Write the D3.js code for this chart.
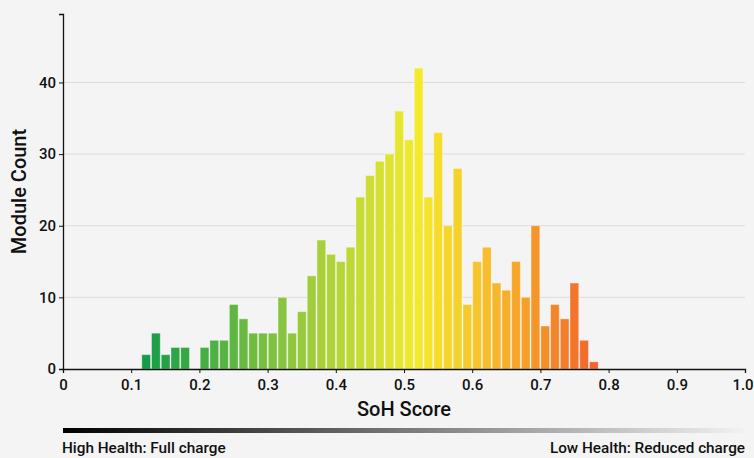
<!DOCTYPE html>
<html>
<head>
<meta charset="utf-8">
<script src="https://cdn.jsdelivr.net/npm/d3@7"></script>
<style>
  html, body { margin: 0; padding: 0; background: #f4f4f4; }
  svg { display: block; font-family: Roboto, "DejaVu Sans", sans-serif; }
</style>
</head>
<body>
<svg id="chart" width="754" height="458"></svg>
<script>
// ---- Data ----
const binStart = 0.1148;
const binWidth = 0.01427;
const counts = [2, 5, 2, 3, 3, 0, 3, 4, 4, 9, 7, 5, 5, 5, 10, 5, 8, 13, 18, 16, 15, 17, 24, 27, 29, 30, 36, 32, 42, 24, 33, 20, 28, 9, 15, 17, 12, 11, 15, 10, 20, 6, 9, 7, 12, 4, 1];
const xTicks = [0, 0.1, 0.2, 0.3, 0.4, 0.5, 0.6, 0.7, 0.8, 0.9, 1.0];
const yTicks = [0, 10, 20, 30, 40];
const colorStops = [0.11, 0.33, 0.52, 0.64, 0.785];
const colorValues = ["#0f9a48", "#8cc63f", "#f4eb2c", "#f7b52a", "#f0612b"];
const xLabel = "SoH Score";
const yLabel = "Module Count";
const legendLeft = "High Health: Full charge";
const legendRight = "Low Health: Reduced charge";

const bins = counts.map((c, i) => ({ x0: binStart + i * binWidth, x1: binStart + (i + 1) * binWidth, count: c }));

const svg = d3.select("#chart");
const margin = { left: 63, right: 9, top: 14, bottom: 89 };
const W = 754, H = 458;

const x = d3.scaleLinear().domain([0, 1]).range([margin.left, W - margin.right]);
const y = d3.scaleLinear().domain([0, d3.max(counts) * 1.18]).range([H - margin.bottom, margin.top]);
const color = d3.scaleLinear().domain(colorStops).range(colorValues).clamp(true);

// gridlines
svg.append("g")
  .selectAll("line")
  .data(yTicks.filter(d => d > 0))
  .join("line")
  .attr("x1", x(0)).attr("x2", x(1))
  .attr("y1", d => y(d)).attr("y2", d => y(d))
  .attr("stroke", "#dcdcdc").attr("stroke-width", 1);

// bars
svg.append("g")
  .selectAll("rect")
  .data(bins.filter(b => b.count > 0))
  .join("rect")
  .attr("x", d => x(d.x0) + 0.5)
  .attr("width", d => x(d.x1) - x(d.x0) - 1)
  .attr("y", d => y(d.count))
  .attr("height", d => y(0) - y(d.count))
  .attr("fill", d => color((d.x0 + d.x1) / 2))
  .attr("stroke", "rgba(255,255,255,0.35)")
  .attr("stroke-width", 1);

// axes
const fmt = d => d === 0 ? "0" : d3.format(".1f")(d);
const xAxis = svg.append("g")
  .attr("transform", `translate(0,${y(0)})`)
  .call(d3.axisBottom(x).tickValues(xTicks).tickFormat(fmt).tickSize(4).tickSizeOuter(4));
const yAxis = svg.append("g")
  .attr("transform", `translate(${x(0)},0)`)
  .call(d3.axisLeft(y).tickValues(yTicks).tickSize(4).tickSizeOuter(4));

[xAxis, yAxis].forEach(g => {
  g.selectAll("path.domain").attr("stroke", "#111").attr("stroke-width", 1.3);
  g.selectAll(".tick line").attr("stroke", "#111");
  g.selectAll("text").attr("fill", "#111").style("font-size", "15px").style("font-weight", 500)
    .style("font-family", "Roboto, sans-serif");
});
xAxis.selectAll("text").attr("dy", "0.9em");
xAxis.selectAll(".tick text").filter(d => d === 1).attr("dx", -2.5);

// axis titles
svg.append("text")
  .attr("x", (x(0) + x(1)) / 2).attr("y", 416)
  .attr("text-anchor", "middle")
  .style("font-size", "20px").style("font-weight", 500).attr("fill", "#111")
  .text(xLabel);

svg.append("text")
  .attr("transform", `translate(26,${(y(0) + margin.top) / 2}) rotate(-90)`)
  .attr("text-anchor", "middle")
  .style("font-size", "20px").style("font-weight", 500).attr("fill", "#111")
  .text(yLabel);

// gradient legend
const defs = svg.append("defs");
const grad = defs.append("linearGradient").attr("id", "legendGrad");
grad.append("stop").attr("offset", "0%").attr("stop-color", "#000");
grad.append("stop").attr("offset", "100%").attr("stop-color", "#f2f2f2");
svg.append("rect")
  .attr("x", x(0)).attr("y", 428)
  .attr("width", x(1) - x(0)).attr("height", 5)
  .attr("fill", "url(#legendGrad)");

svg.append("text")
  .attr("x", x(0) - 1).attr("y", 453)
  .style("font-size", "15.3px").style("font-weight", 500).attr("fill", "#111")
  .text(legendLeft);
svg.append("text")
  .attr("x", x(1)).attr("y", 453)
  .attr("text-anchor", "end")
  .style("font-size", "15.3px").style("font-weight", 500).attr("fill", "#111")
  .text(legendRight);
</script>
</body>
</html>
